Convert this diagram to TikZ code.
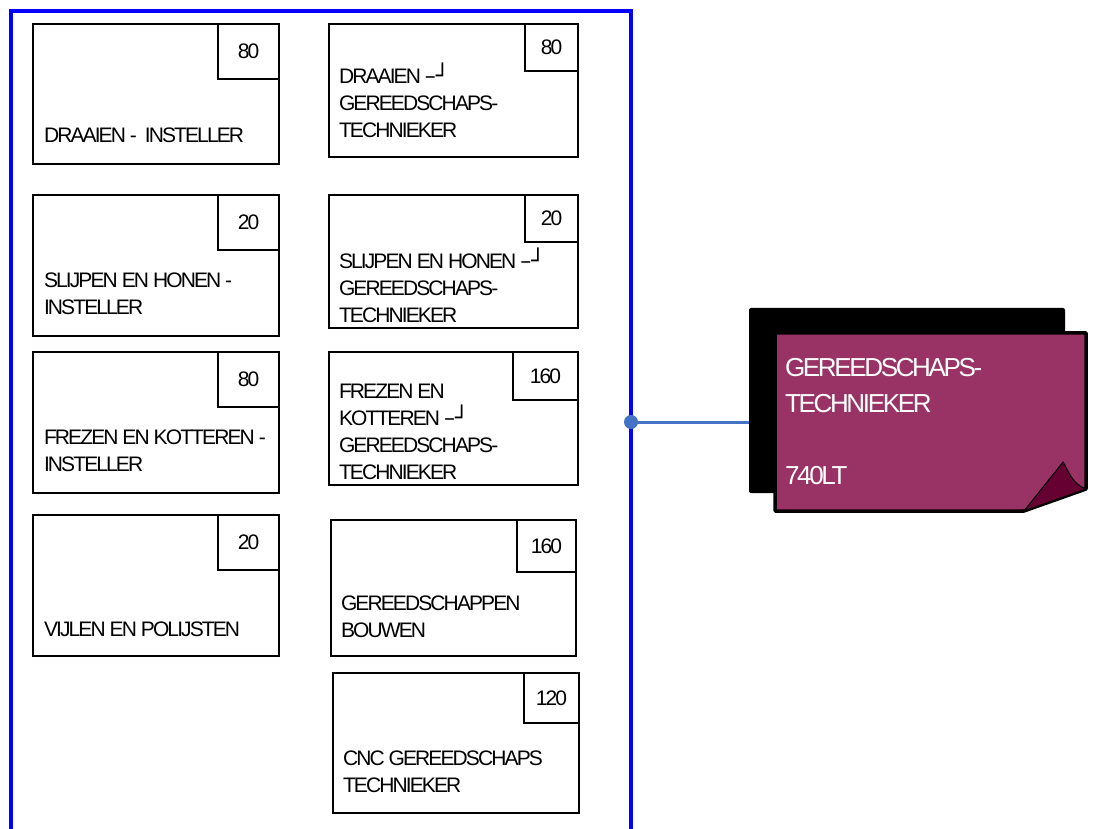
\documentclass[tikz,border=0pt]{standalone}
\usepackage{fontspec}
\setmainfont{Liberation Sans}[LetterSpace=-9]
\newfontfamily\symfont{DejaVu Sans}
\definecolor{kader}{HTML}{0000FF}
\definecolor{lijn}{HTML}{4472C4}
\definecolor{roze}{HTML}{993366}
\definecolor{krul}{HTML}{660033}
\newcommand{\terug}{\ {\symfont\fontsize{22}{22}\selectfont –┘}}
\begin{document}
\begin{tikzpicture}[x=1pt,y=-1pt]
\tikzstyle{every node}+=[inner sep=0pt, outer sep=0pt]
\tikzstyle{taak}=[draw, line width=1.2pt, anchor=north west]
\tikzstyle{uren}=[draw, line width=1.2pt, anchor=north east, font=\fontsize{21}{24}\selectfont]
\tikzstyle{tekst}=[anchor=base west, align=left, font=\fontsize{21}{27}\selectfont]
\useasboundingbox (0,0) rectangle (1096,829);
\fill[white] (0,0) rectangle (1096,829);
\draw[kader, line width=3.5pt] (11,840) -- (11,11) -- (631,11) -- (631,840);
\node[taak, minimum width=246, minimum height=140] (a1) at (33,24) {};
\node[uren, minimum width=61, minimum height=55] (a1u) at (a1.north east) {80};
\node[tekst] (a1t) at (44,143) {DRAAIEN -\ \ INSTELLER};
\node[taak, minimum width=246, minimum height=141] (a2) at (33,195) {};
\node[uren, minimum width=61, minimum height=55] (a2u) at (a2.north east) {20};
\node[tekst] (a2t) at (44,315) {SLIJPEN EN HONEN -\\INSTELLER};
\node[taak, minimum width=246, minimum height=141] (a3) at (33,352) {};
\node[uren, minimum width=61, minimum height=55] (a3u) at (a3.north east) {80};
\node[tekst] (a3t) at (44,471) {FREZEN EN KOTTEREN -\\INSTELLER};
\node[taak, minimum width=246, minimum height=141] (a4) at (33,515) {};
\node[uren, minimum width=61, minimum height=55] (a4u) at (a4.north east) {20};
\node[tekst] (a4t) at (44,636) {VIJLEN EN POLIJSTEN};
\node[taak, minimum width=249, minimum height=133] (b1) at (329,24) {};
\node[uren, minimum width=53, minimum height=47] (b1u) at (b1.north east) {80};
\node[tekst] (b1t) at (339,138) {DRAAIEN\terug\\GEREEDSCHAPS-\\TECHNIEKER};
\node[taak, minimum width=249, minimum height=133] (b2) at (329,195) {};
\node[uren, minimum width=53, minimum height=47] (b2u) at (b2.north east) {20};
\node[tekst] (b2t) at (339,323) {SLIJPEN EN HONEN\terug\\GEREEDSCHAPS-\\TECHNIEKER};
\node[taak, minimum width=249, minimum height=133] (b3) at (329,352) {};
\node[uren, minimum width=65, minimum height=48] (b3u) at (b3.north east) {160};
\node[tekst] (b3t) at (339,479) {FREZEN EN\\KOTTEREN\terug\\GEREEDSCHAPS-\\TECHNIEKER};
\node[taak, minimum width=245, minimum height=136] (b4) at (331,520) {};
\node[uren, minimum width=59, minimum height=52] (b4u) at (b4.north east) {160};
\node[tekst] (b4t) at (341,637) {GEREEDSCHAPPEN\\BOUWEN};
\node[taak, minimum width=246, minimum height=140] (b5) at (333,673) {};
\node[uren, minimum width=55, minimum height=50] (b5u) at (b5.north east) {120};
\node[tekst] (b5t) at (343,792) {CNC GEREEDSCHAPS\\TECHNIEKER};
\coordinate (aansl) at (631,422);
\node[fill=black, rounded corners=2pt, minimum width=316, minimum height=185, anchor=north west] (schaduw) at (749,308) {};
\draw[lijn, line width=3pt] (aansl) -- (aansl -| schaduw.west);
\fill[lijn] (aansl) circle (7);
\node[minimum width=311, minimum height=178, anchor=north west] (doel) at (775,333) {};
\coordinate (punt) at (1063,462);
\filldraw[fill=roze, draw=black, line width=3.5pt, line join=round] (doel.north west) -- (doel.north east) -- ([yshift=22pt]doel.south east) -- ([xshift=-62pt]doel.south east) -- (doel.south west) -- cycle;
\filldraw[fill=krul, draw=black, line width=1pt] ([xshift=-62pt]doel.south east) -- (punt) .. controls (1068,470) and (1072,484) .. ([yshift=22pt]doel.south east) -- cycle;
\node[anchor=base west, align=left, text=white, font=\fontsize{26}{36}\selectfont] (doelt) at (785,484) {GEREEDSCHAPS-\\TECHNIEKER\\[36pt]740LT};
\end{tikzpicture}
\end{document}
